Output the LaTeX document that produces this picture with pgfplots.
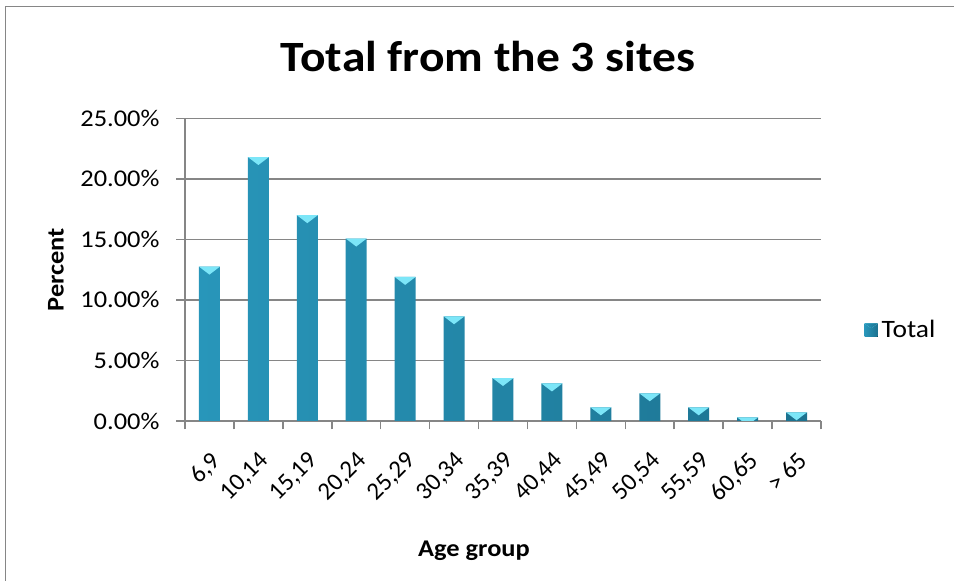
\documentclass[border=0pt]{standalone}
\usepackage{pgfplots}
\pgfplotsset{compat=1.18}
\usepackage{pgfplotstable}
\usepackage{fontspec}
\setmainfont[FakeStretch=1.1]{Carlito}
\newfontfamily\rotfont{Carlito}

\definecolor{gridgray}{RGB}{134,134,134}
\definecolor{barLeft}{RGB}{40,150,186}
\definecolor{barMid}{RGB}{70,196,228}
\definecolor{barRight}{RGB}{28,114,144}
\definecolor{bevel}{RGB}{124,230,248}

% light bevel on the top face of each bar
\pgfdeclareplotmark{bevel}{%
  \pgfpathmoveto{\pgfqpoint{-5.25pt}{0pt}}%
  \pgfpathlineto{\pgfqpoint{5.25pt}{0pt}}%
  \pgfpathlineto{\pgfqpoint{0pt}{-4pt}}%
  \pgfpathclose
  \pgfusepathqfill}

% share of respondents (percent) by age group
\pgfplotstableread{
idx share
0  12.75
1  21.80
2  17.00
3  15.07
4  11.90
5  8.65
6  3.55
7  3.10
8  1.13
9  2.29
10 1.13
11 0.30
12 0.72
}\agedata

\begin{document}
\begin{tikzpicture}
\useasboundingbox (-92.5pt,-80pt) rectangle (384.5pt,210.5pt);
\draw[gridgray, line width=0.75pt] (-89.65pt,-80pt) -- (-89.65pt,207.15pt) -- (384.5pt,207.15pt);

\begin{axis}[
  at={(0pt,0pt)}, anchor=south west,
  scale only axis, width=318pt, height=151.35pt,
  xmin=-0.5, xmax=12.5, ymin=0, ymax=25,
  axis x line*=bottom, axis y line*=left,
  axis line style={gridgray, line width=0.75pt, -},
  ymajorgrids, grid style={gridgray, line width=0.75pt},
  tick align=outside, major tick length=4.25pt,
  tick style={gridgray, line width=0.75pt},
  ytick={0,5,...,25},
  yticklabels={0.00\%,5.00\%,10.00\%,15.00\%,20.00\%,25.00\%},
  yticklabel style={xshift=-5pt},
  tick label style={font=\fontsize{12}{14}\selectfont, text=black},
  xtick={-0.5,0.5,...,12.5}, xticklabels={},
  extra x ticks={0,1,...,12},
  extra x tick labels={{6,9},{10,14},{15,19},{20,24},{25,29},{30,34},{35,39},{40,44},{45,49},{50,54},{55,59},{60,65},{> 65}},
  extra x tick style={major tick length=0pt, grid=none,
    xticklabel style={font=\fontsize{12.4}{14}\rotfont,
      xshift=0pt, yshift=-13pt, rotate=45,
      anchor=north east, inner sep=1pt}},
  ylabel={Percent},
  ylabel style={at={(axis description cs:-0.203,0.5)}, anchor=center,
    font=\fontsize{12}{14}\selectfont\bfseries},
  xlabel={Age group},
  xlabel style={at={(axis description cs:0.4544,-0.449)}, anchor=base,
    font=\fontsize{12}{14}\selectfont\bfseries},
  legend style={at={(axis description cs:1.068,0.30)}, anchor=west,
    draw=none, fill=none, inner sep=0pt,
    font=\fontsize{12.5}{14}\selectfont},
  clip marker paths=true,
]
\addplot[ybar, bar width=10.5pt, bar shift=0pt, draw=none,
  left color=barLeft, middle color=barMid, right color=barRight,
  legend image code/.code={%
    \fill[left color=barLeft, middle color=barMid, right color=barRight]
      (0pt,-3.25pt) rectangle (6.5pt,3.25pt);
    \fill[bevel] (0pt,3.25pt) -- (6.5pt,3.25pt) -- (3.25pt,1pt) -- cycle;}]
  table[x=idx, y=share] {\agedata};
\addlegendentry{Total}
\addplot[only marks, mark=bevel, color=bevel, forget plot]
  table[x=idx, y=share] {\agedata};
\end{axis}

\node[font=\fontsize{21.6}{26}\selectfont\bfseries, anchor=base]
  at (151.5pt,174.65pt) {Total from the 3 sites};
\end{tikzpicture}
\end{document}
